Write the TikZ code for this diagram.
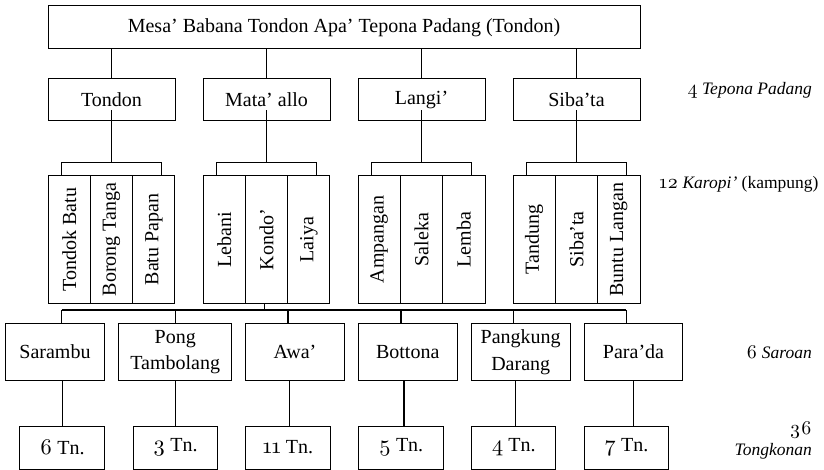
\documentclass[tikz,border=0pt]{standalone}
\usepackage{graphicx}
\usepackage{fontspec}
\setmainfont{Liberation Serif}[ItalicFont={Liberation Serif Italic}, BoldFont={Liberation Serif Bold}]
\newfontfamily\osfont{lmroman10-regular}[Extension=.otf, Numbers=OldStyle, Scale=1.12]
\usetikzlibrary{calc}
\newcommand\bxfont{\fontsize{20}{26.7}\selectfont}
\newcommand\sdfont{\fontsize{17.5}{22}\selectfont}
\newcommand\osn[1]{{\osfont #1}}
\begin{document}
\begin{tikzpicture}[x=1pt,y=-1pt,
  box/.style={draw, line width=1pt, inner sep=0pt, font=\bxfont, align=center},
  grp/.style={box, minimum width=127pt, minimum height=42pt},
  col/.style={box, minimum width=42.33pt, minimum height=127.6pt},
  sar/.style={box, minimum height=57.4pt},
  tn/.style={box, minimum width=84.5pt, minimum height=43pt},
  conn/.style={line width=1.2pt},
  side/.style={font=\sdfont, anchor=base east, inner sep=0pt}]
\useasboundingbox (0,0) rectangle (824,470);

\node[box, minimum width=592pt, minimum height=43pt] (top) at (344,27.5) {Mesa’ Babana Tondon Apa’ Tepona Padang (Tondon)};

\node[grp] (A) at (111.5,100) {Tondon};
\node[grp] (B) at (266.5,100) {Mata’ allo};
\node[grp] (C) at (421.5,100) {Langi’};
\node[grp] (D) at (576.5,100) {Siba’ta};

\foreach \g in {A,B,C,D}{
  \draw[conn] (top.south -| \g.north) -- (\g.north);
}

% columns
\node[col] (A1) at (69.17,239.5) {\rotatebox{90}{Tondok Batu}};
\node[col] (A2) at (111.5,239.5) {\rotatebox{90}{Borong Tanga}};
\node[col] (A3) at (153.83,239.5) {\rotatebox{90}{Batu Papan}};
\node[col] (B1) at (224.17,239.5) {\rotatebox{90}{Lebani}};
\node[col] (B2) at (266.5,239.5) {\rotatebox{90}{Kondo’}};
\node[col] (B3) at (308.83,239.5) {\rotatebox{90}{Laiya}};
\node[col] (C1) at (379.17,239.5) {\rotatebox{90}{Ampangan}};
\node[col] (C2) at (421.5,239.5) {\rotatebox{90}{Saleka}};
\node[col] (C3) at (463.83,239.5) {\rotatebox{90}{Lemba}};
\node[col] (D1) at (534.17,239.5) {\rotatebox{90}{Tandung}};
\node[col] (D2) at (576.5,239.5) {\rotatebox{90}{Siba’ta}};
\node[col] (D3) at (618.83,239.5) {\rotatebox{90}{Buntu Langan}};

\foreach \g in {A,B,C,D}{
  \coordinate (\g b) at ($(\g.south)+(0,41)$);
  \draw[conn] ([yshift=11pt]\g.south) -- (\g b);
  \draw[conn] ($(\g1.north)+(-7.5,0)$) |- (\g b) -| ($(\g3.north)+(7.5,0)$);
}

% saroan
\node[sar, minimum width=98.6pt] (S1) at (55,352) {Sarambu};
\node[sar, minimum width=113pt] (S2) at (175.2,352) {Pong\\Tambolang};
\node[sar, minimum width=98.6pt] (S3) at (295,352) {Awa’};
\node[sar, minimum width=98.6pt] (S4) at (407.7,352) {Bottona};
\node[sar, minimum width=98.6pt] (S5) at (520.7,352) {Pangkung\\Darang};
\node[sar, minimum width=98.6pt] (S6) at (633.5,352) {Para’da};

\coordinate (H1) at (61.7,310);
\coordinate (H2) at (175.3,310);
\coordinate (H3) at (288,310);
\coordinate (H4) at (401,310);
\coordinate (H5) at (513.7,310);
\coordinate (H6) at (626.3,310);
\coordinate (K) at (264.5,310);
\draw[conn] (B2.south -| K) -- (K);
\draw[conn] (H1) -- (H6);
\foreach \k in {1,...,6}{
  \draw[conn] (H\k) -- (H\k |- S\k.north);
}

% tongkonan
\node[tn] (T1) at (62.2,447.5) {\osn{6} Tn.};
\node[tn] (T2) at (175.3,447.5) {\osn{3} Tn.};
\node[tn] (T3) at (288,447.5) {\osn{11} Tn.};
\node[tn] (T4) at (401,447.5) {\osn{5} Tn.};
\node[tn] (T5) at (513.7,447.5) {\osn{4} Tn.};
\node[tn] (T6) at (626.5,447.5) {\osn{7} Tn.};
\draw[conn] (T1.north) -- (T1.north |- S1.south);
\draw[conn] (T2.north) -- (T2.north |- S2.south);
\draw[conn] ([xshift=1.5pt]T3.north) -- ([xshift=1.5pt]T3.north |- S3.south);
\draw[conn] ([xshift=3pt]T4.north) -- ([xshift=3pt]T4.north |- S4.south);
\draw[conn] ([xshift=1.5pt]T5.north) -- ([xshift=1.5pt]T5.north |- S5.south);
\draw[conn] ([xshift=7pt]T6.north) -- ([xshift=7pt]T6.north |- S6.south);

% side labels
\node[side] (L1) at (812,95) {\osn{4} \textit{Tepona Padang}};
\node[side] (L2) at (818.7,189) {\osn{12} \textit{Karopi’} (kampung)};
\node[side] (L3) at (812,358.3) {\osn{6} \textit{Saroan}};
\node[side] (L4) at (812,434) {\osn{36}};
\node[side] (L5) at (812,455) {\textit{Tongkonan}};
\end{tikzpicture}
\end{document}
